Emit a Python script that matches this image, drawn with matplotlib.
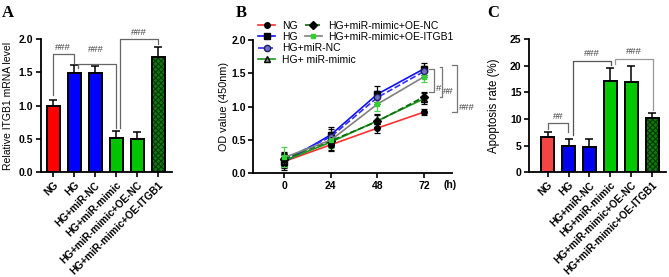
import numpy as np
import matplotlib
matplotlib.use("Agg")
import matplotlib.pyplot as plt

# --- data ---
groups = ["NG", "HG", "HG+miR-NC", "HG+miR-mimic",
          "HG+miR-mimic+OE-NC", "HG+miR-mimic+OE-ITGB1"]
itgb1_mean = [1.00, 1.49, 1.49, 0.51, 0.50, 1.73]
itgb1_err = [0.08, 0.12, 0.10, 0.11, 0.11, 0.15]
apoptosis_mean = [6.6, 4.9, 4.8, 17.1, 16.9, 10.1]
apoptosis_err = [1.0, 1.3, 1.5, 2.4, 3.1, 1.0]

hours = [0, 24, 48, 72]
od_ng = [0.18, 0.43, 0.68, 0.92]
od_hg = [0.17, 0.58, 1.19, 1.57]
od_mir_nc = [0.21, 0.55, 1.14, 1.53]
od_mimic = [0.19, 0.47, 0.79, 1.12]
od_oe_nc = [0.22, 0.49, 0.78, 1.15]
od_oe_itgb1 = [0.24, 0.50, 1.04, 1.45]
err_ng = [0.10, 0.10, 0.07, 0.05]
err_hg = [0.12, 0.12, 0.12, 0.09]
err_mir_nc = [0.10, 0.11, 0.10, 0.08]
err_mimic = [0.10, 0.12, 0.10, 0.08]
err_oe_nc = [0.10, 0.10, 0.10, 0.07]
err_oe_itgb1 = [0.15, 0.12, 0.10, 0.08]

plt.rcParams['font.family'] = ['Liberation Sans', 'DejaVu Sans']
plt.rcParams['font.weight'] = 'bold'
plt.rcParams['hatch.linewidth'] = 0.8


def style_axis(ax):
    for side in ['top', 'right']:
        ax.spines[side].set_visible(False)
    for side in ['left', 'bottom']:
        ax.spines[side].set_linewidth(1.3)
    ax.tick_params(width=1.2, length=3.5, labelsize=7.5, pad=2)


def draw_bars(ax, means, errs, colors, hatch_color):
    x = np.arange(len(means))
    ax.bar(x[:5], means[:5], width=0.62, color=colors, edgecolor='black',
           linewidth=1.4, zorder=2)
    ax.bar(x[5], means[5], width=0.62, color=hatch_color, hatch='xxxxxx',
           edgecolor='#003800', linewidth=0, zorder=2)
    ax.bar(x[5], means[5], width=0.62, fill=False, edgecolor='black',
           linewidth=1.4, zorder=3)
    ax.errorbar(x, means, yerr=[np.zeros(len(errs)), errs], fmt='none',
                ecolor='black', elinewidth=1.1, capsize=2.6, capthick=1.1,
                zorder=1)
    ax.set_xticks(x)
    ax.set_xticklabels(groups, rotation=45, ha='right',
                       rotation_mode='anchor', fontsize=7.3)


def bracket(ax, x1, x2, top, y1, y2, label, tx, ty, color='#666666'):
    ax.plot([x1, x1, x2, x2], [y1, top, top, y2], color=color, lw=0.9,
            clip_on=False)
    ax.text(tx, ty, label, ha='center', va='center', fontsize=6.8,
            color='#444444', fontweight='normal')


def side_bracket(ax, xa, xv, top, bot, label, tx, ty):
    ax.plot([xa, xv, xv, xa], [top, top, bot, bot], color='#777777',
            lw=0.9, clip_on=False)
    ax.text(tx, ty, label, ha='left', va='center', fontsize=6.8,
            color='#444444', fontweight='normal', clip_on=False)


fig = plt.figure(figsize=(6.69, 2.77), dpi=100)

# ---------------- A ----------------
axA = fig.add_axes([0.0608, 0.378, 0.196, 0.481])
style_axis(axA)
draw_bars(axA, itgb1_mean, itgb1_err,
          ['#ff0000', '#0000ff', '#0000ff', '#00c400', '#00c400'], '#137a13')
axA.set_xlim(-0.59, 5.65)
axA.set_ylim(0, 2.0)
axA.set_yticks([0.0, 0.5, 1.0, 1.5, 2.0])
axA.set_yticklabels(['0.0', '0.5', '1.0', '1.5', '2.0'])
axA.set_ylabel("Relative ITGB1 mRNA level", fontsize=7.5)
axA.yaxis.set_label_coords(-0.21, 0.5)
bracket(axA, 0.0, 1.0, 1.77, 1.16, 1.64, "###", 0.45, 1.87)
bracket(axA, 1.2, 2.98, 1.625, 1.57, 0.66, "###", 2.05, 1.84)
bracket(axA, 3.2, 5.0, 2.0, 0.66, 1.92, "###", 4.1, 2.1)

# ---------------- B ----------------
axB = fig.add_axes([0.3786, 0.374, 0.2966, 0.481])
style_axis(axB)
series = [
    (od_ng, err_ng, dict(color='#ff3030', ls='-', marker='o', ms=4,
                         mfc='black', mec='black'), 'NG', 'black'),
    (od_hg, err_hg, dict(color='#1010ff', ls='-', marker='s', ms=4.8,
                         mfc='black', mec='black'), 'HG', 'black'),
    (od_mir_nc, err_mir_nc, dict(color='#3030ff', ls='--', marker='o', ms=4.5,
                                 mfc='#7070c0', mec='#202060'), 'HG+miR-NC', 'black'),
    (od_mimic, err_mimic, dict(color='#1a9a1a', ls='-', marker='^', ms=4.8,
                               mfc='#808080', mec='black'), 'HG+ miR-mimic', 'black'),
    (od_oe_nc, err_oe_nc, dict(color='#0a6a0a', ls='--', marker='D', ms=3.8,
                               mfc='black', mec='black'), 'HG+miR-mimic+OE-NC', 'black'),
    (od_oe_itgb1, err_oe_itgb1, dict(color='#808080', ls='-', marker='s', ms=3.2,
                                     mfc='#30d030', mec='#30d030'),
     'HG+miR-mimic+OE-ITGB1', '#50d050'),
]
handles = []
for vals, errs, kw, name, ecol in series:
    axB.errorbar(hours, vals, yerr=errs, fmt='none', ecolor=ecol,
                 elinewidth=0.9, capsize=2.2, capthick=0.9, zorder=1)
    line, = axB.plot(hours, vals, lw=1.2, label=name, zorder=2, **kw)
    handles.append(line)
axB.set_xlim(-16, 86.3)
axB.set_ylim(0, 2.0)
axB.set_xticks(hours)
axB.set_yticks([0.0, 0.5, 1.0, 1.5, 2.0])
axB.set_yticklabels(['0.0', '0.5', '1.0', '1.5', '2.0'])
axB.set_ylabel("OD value (450nm)", fontsize=7.8)
axB.yaxis.set_label_coords(-0.122, 0.5)
axB.text(85.5, -0.175, "(h)", ha='center', va='center', fontsize=7.5,
         clip_on=False)
side_bracket(axB, 74.5, 77.1, 1.565, 1.215, "#", 78.0, 1.275)
side_bracket(axB, 80.2, 81.4, 1.60, 1.15, "##", 82.0, 1.225)
side_bracket(axB, 86.4, 89.1, 1.625, 0.915, "###", 89.8, 0.985)

leg1 = axB.legend(handles=handles[:4], loc='upper left',
                  bbox_to_anchor=(0.386, 0.925),
                  bbox_transform=fig.transFigure, frameon=False,
                  prop={'size': 7.5, 'weight': 'normal'}, handlelength=1.6,
                  handletextpad=0.7, labelspacing=0.12, borderpad=0,
                  borderaxespad=0)
axB.add_artist(leg1)
axB.legend(handles=handles[4:], loc='upper left',
           bbox_to_anchor=(0.456, 0.925), bbox_transform=fig.transFigure,
           frameon=False, prop={'size': 7.5, 'weight': 'normal'},
           handlelength=1.6, handletextpad=0.6, labelspacing=0.12,
           borderpad=0, borderaxespad=0)

# ---------------- C ----------------
axC = fig.add_axes([0.791, 0.378, 0.205, 0.481])
style_axis(axC)
draw_bars(axC, apoptosis_mean, apoptosis_err,
          ['#f44444', '#0000ee', '#0000ee', '#00c800', '#00c800'], '#137a13')
axC.set_xlim(-0.88, 5.67)
axC.set_ylim(0, 25)
axC.set_yticks([0, 5, 10, 15, 20, 25])
axC.set_ylabel("Apoptosis rate (%)", fontsize=8.3)
axC.yaxis.set_label_coords(-0.214, 0.5)
bracket(axC, 0.03, 0.98, 9.2, 8.1, 7.6, "##", 0.5, 10.4)
bracket(axC, 1.19, 3.05, 20.9, 7.0, 20.1, "###", 2.1, 22.3, color='#555555')
bracket(axC, 3.24, 5.03, 21.2, 20.4, 11.7, "###", 4.1, 22.6, color='#999999')

# panel letters
for x, letter in [(0.003, "A"), (0.352, "B"), (0.728, "C")]:
    fig.text(x, 0.952, letter, fontsize=12, fontweight='bold',
             family='Liberation Serif', va='center')

plt.savefig("out.png", dpi=100)
